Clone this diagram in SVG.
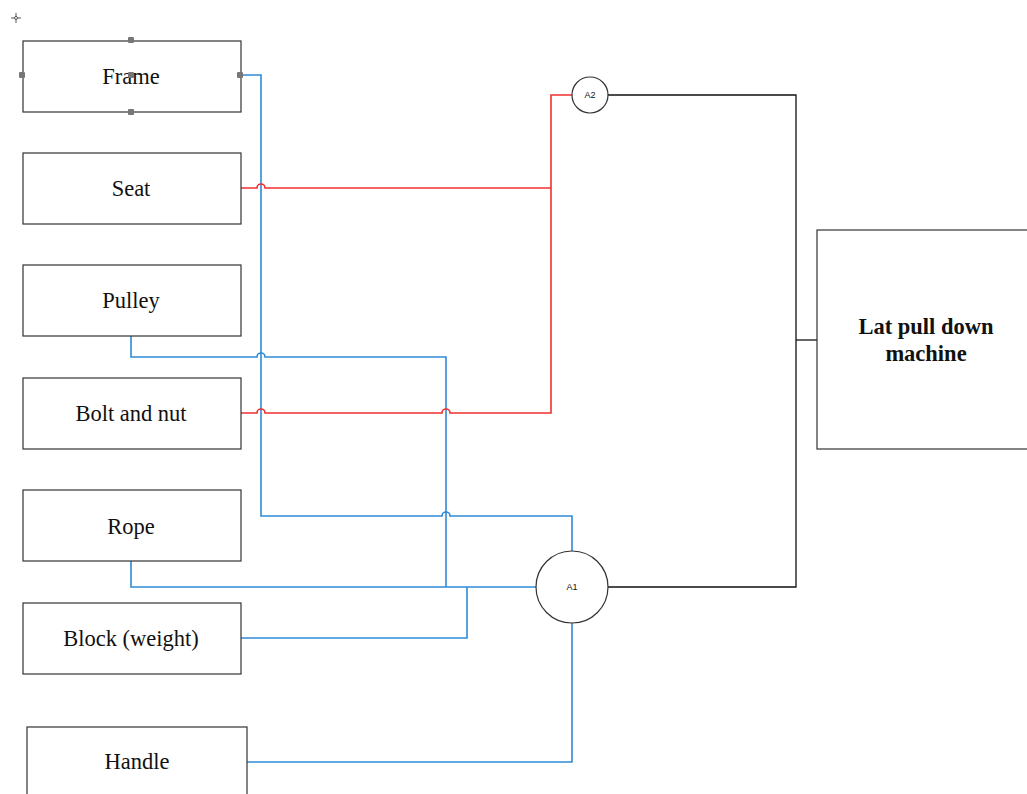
<svg xmlns="http://www.w3.org/2000/svg" width="1027" height="794" viewBox="0 0 1027 794">
<style>
.box{fill:#fff;stroke:#333;stroke-width:1.2}
.lbl{font-family:"Liberation Serif",serif;font-size:22.5px;fill:#111;text-anchor:middle;dominant-baseline:central}
.big{font-weight:bold}
.circ{fill:#fff;stroke:#333;stroke-width:1.2}
.sm{font-family:"Liberation Sans",sans-serif;font-size:9px;fill:#111;text-anchor:middle;dominant-baseline:central}
.b{fill:none;stroke:#2f8ad6;stroke-width:1.6}
.r{fill:none;stroke:#f03030;stroke-width:1.6}
.k{fill:none;stroke:#111;stroke-width:1.3}
.h{fill:#777}
</style>
<g id="connectors">
<path class="b" d="M241,75 H261 V516 H442 A4,4 0 0 1 450,516 H572 V552"/>
<path class="b" d="M131,336 V357 H257 A4,4 0 0 1 265,357 H446 V587"/>
<path class="b" d="M131,561 V587 H536"/>
<path class="b" d="M241,638 H467 V587"/>
<path class="b" d="M247,762 H572 V623"/>
<path class="r" d="M241,188 H257 A4,4 0 0 1 265,188 H551"/>
<path class="r" d="M241,413 H257 A4,4 0 0 1 265,413 H442 A4,4 0 0 1 450,413 H551 V95 H572"/>
<path class="k" d="M608,95 H796 V587 H608"/>
<path class="k" d="M796,340 H817"/>
</g>
<g id="frame"><rect class="box" x="23" y="41" width="218" height="71"/><text class="lbl" x="131" y="76">Frame</text>
<rect class="h" x="128" y="37" width="6" height="6" rx="1"/><rect class="h" x="19" y="72" width="6" height="6" rx="1"/><rect class="h" x="237" y="72" width="6" height="6" rx="1"/><rect class="h" x="128" y="109" width="6" height="6" rx="1"/><rect class="h" x="128" y="72" width="6" height="6" rx="1"/></g>
<g id="seat"><rect class="box" x="23" y="153" width="218" height="71"/><text class="lbl" x="131" y="188">Seat</text></g>
<g id="pulley"><rect class="box" x="23" y="265" width="218" height="71"/><text class="lbl" x="131" y="300">Pulley</text></g>
<g id="bolt"><rect class="box" x="23" y="378" width="218" height="71"/><text class="lbl" x="131" y="413">Bolt and nut</text></g>
<g id="rope"><rect class="box" x="23" y="490" width="218" height="71"/><text class="lbl" x="131" y="526">Rope</text></g>
<g id="block"><rect class="box" x="23" y="603" width="218" height="71"/><text class="lbl" x="131" y="638">Block (weight)</text></g>
<g id="handle"><rect class="box" x="27" y="727" width="220" height="80"/><text class="lbl" x="137" y="761">Handle</text></g>
<g id="a2"><circle class="circ" cx="590" cy="95" r="18"/><text class="sm" x="590" y="95">A2</text></g>
<g id="a1"><circle class="circ" cx="572" cy="587" r="36"/><text class="sm" x="572" y="587">A1</text></g>
<g id="lat"><rect class="box" x="817" y="230" width="220" height="219"/><text class="lbl big" x="926" y="326">Lat pull down</text><text class="lbl big" x="926" y="353">machine</text></g>
<g id="cursor" stroke="#555" stroke-width="1" fill="none"><path d="M11,18 H21 M16,13 V23"/><circle cx="16" cy="18" r="1.5" fill="#fff"/></g>
</svg>
